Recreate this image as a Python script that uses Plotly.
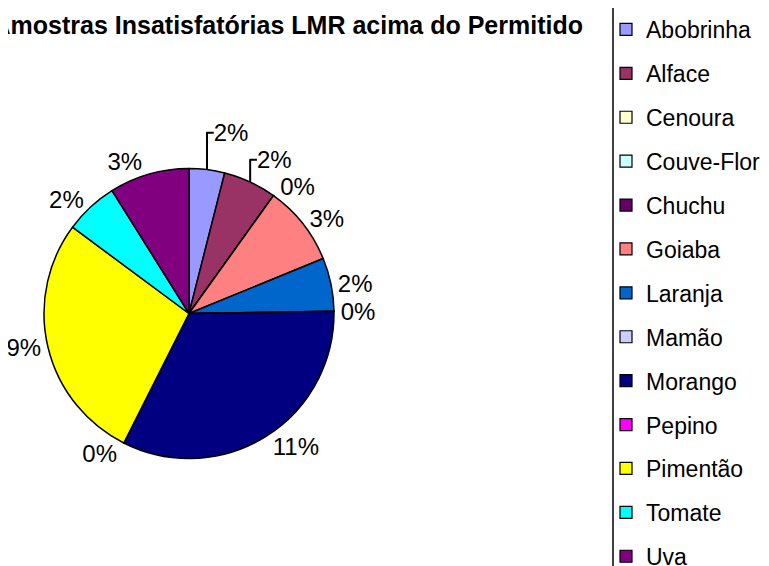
import plotly.graph_objects as go

# ------------------------------------------------------------
# Data
# ------------------------------------------------------------
produtos = ["Abobrinha", "Alface", "Cenoura", "Couve-Flor", "Chuchu", "Goiaba",
            "Laranja", "Mamão", "Morango", "Pepino", "Pimentão", "Tomate", "Uva"]
amostras = [4, 6, 0, 0, 0, 9, 6, 0, 33, 0, 28, 6, 9]
rotulos = ["2%", "2%", "0%", "0%", "0%", "3%", "2%", "0%", "11%", "0%", "9%", "2%", "3%"]

cores = ["#9999FF", "#993366", "#FFFFCC", "#CCFFFF", "#660066", "#FF8080",
         "#0066CC", "#CCCCFF", "#000080", "#FF00FF", "#FFFF00", "#00FFFF", "#800080"]

W, H = 769, 566
OFF = 8  # page body margin, everything sits 8px right/down on screen

# zero slices that sit on the same angle print on top of each other in the
# original, so only the first of a run is written
texto = []
for i, (v, r) in enumerate(zip(amostras, rotulos)):
    if v == 0 and i > 0 and amostras[i - 1] == 0:
        texto.append("")
    else:
        texto.append(r)

# pie centre / radius (screen pixels)
cx, cy, rad = 189 - OFF, 313.5 - OFF, 145

# ------------------------------------------------------------
# Pie
# ------------------------------------------------------------
fig = go.Figure()
fig.add_trace(go.Pie(
    labels=produtos,
    values=amostras,
    text=texto,
    textinfo="text",
    textposition="outside",
    sort=False,
    direction="clockwise",
    rotation=0,
    marker=dict(colors=cores, line=dict(color="black", width=1.5)),
    outsidetextfont=dict(size=24, color="black", family="Liberation Sans, Arial"),
    domain=dict(x=[(cx - rad) / W, (cx + rad) / W],
                y=[1 - (cy + rad) / H, 1 - (cy - rad) / H]),
    showlegend=False,
    hoverinfo="label+value",
))

# legend entries (one group each so the spacing can be set)
for nome, cor in zip(produtos, cores):
    fig.add_trace(go.Scatter(
        x=[None], y=[None], mode="markers", name=nome, legendgroup=nome,
        marker=dict(symbol="square", size=12, color=cor, line=dict(color="black", width=1.2)),
    ))

fig.update_layout(
    width=W, height=H,
    margin=dict(l=0, r=0, t=0, b=0, autoexpand=False),
    paper_bgcolor="white",
    plot_bgcolor="white",
    font=dict(family="Liberation Sans, Arial", color="black"),
    title=dict(
        text="<b>Amostras Insatisfatórias LMR acima do Permitido</b>",
        x=(583 - OFF) / W, xanchor="right", xref="container",
        y=1 - 17 / H, yanchor="middle", yref="container",
        font=dict(size=25, color="black"),
    ),
    xaxis=dict(visible=False),
    yaxis=dict(visible=False),
    legend=dict(
        x=598 / W, xanchor="left", y=1, yanchor="top",
        font=dict(size=23, color="black"),
        tracegroupgap=11,
        bgcolor="rgba(0,0,0,0)",
    ),
    shapes=[dict(type="line", xref="paper", yref="paper",
                 x0=(613 - OFF) / W, x1=(613 - OFF) / W, y0=0, y1=1,
                 line=dict(color="black", width=1.5))],
)

fig.write_html("out.html")
